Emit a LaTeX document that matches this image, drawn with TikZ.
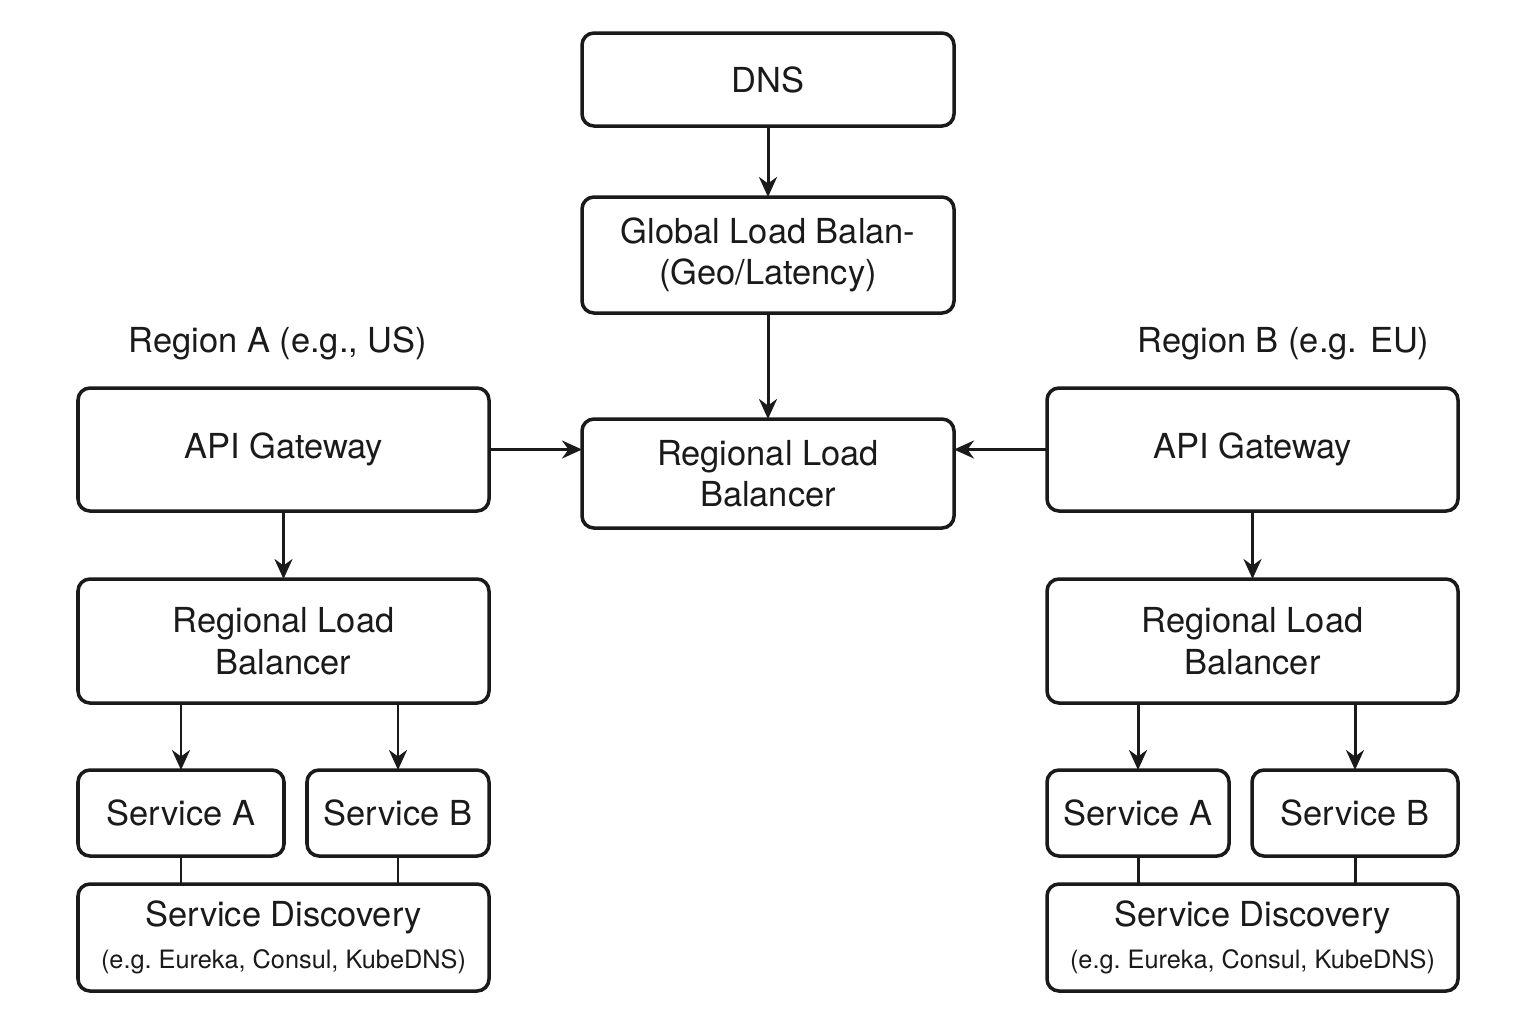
\documentclass[tikz,border=0pt]{standalone}
\usepackage{fontspec}
\setmainfont{TeX Gyre Heros}
\usetikzlibrary{arrows.meta, positioning}
\definecolor{ink}{RGB}{26, 26, 26}
\newcommand{\mainsize}{\fontsize{9.8}{11.8}\selectfont}
\newcommand{\smallsize}{\fontsize{7.2}{9}\selectfont}

\begin{document}
\begin{tikzpicture}[node distance=0.7cm]
    % Styles
    \tikzstyle{box} = [rectangle, draw=ink, text=ink, line width=1pt, outer sep=0pt,
        rounded corners=1.2mm, align=center, inner sep=0pt, font=\mainsize]
    \tikzstyle{midbox} = [box, minimum width=3.72cm]
    \tikzstyle{sidebox} = [box, minimum width=4.11cm]
    \tikzstyle{region} = [text=ink, inner sep=0pt, outer sep=0pt, font=\mainsize]
    \tikzstyle{arrow} = [ink, line width=0.85pt, -{Stealth[length=2mm, width=1.8mm]}]
    \tikzstyle{link} = [ink, line width=0.85pt]

    % Canvas
    \fill[white] (0,0) rectangle (15.36,-10.24);
    \useasboundingbox (0,0) rectangle (15.36,-10.24);

    % Nodes (middle)
    \node [midbox, minimum height=0.93cm] (dns) at (7.68,-0.795) {DNS};
    \node [midbox, minimum height=1.16cm, below=0.71cm of dns] (glb) {Global Load Balan-\\(Geo/Latency)};
    \node [midbox, minimum height=1.09cm, below=1.06cm of glb] (rlb) {Regional Load\\Balancer};

    % Nodes (region A)
    \node [sidebox, minimum height=1.23cm, left=0.93cm of rlb, yshift=0.24cm] (gwa) {API Gateway};
    \node [region, above=0.28cm of gwa, xshift=-0.055cm] (rega) {Region A (e.g., US)};
    \node [sidebox, minimum height=1.24cm, below=0.68cm of gwa] (rlba) {Regional Load\\Balancer};
    \node [box, minimum width=2.06cm, minimum height=0.86cm, below right=0.67cm and 0cm of rlba.south west] (sva) {Service A};
    \node [box, minimum width=1.82cm, minimum height=0.86cm, below left=0.67cm and 0cm of rlba.south east] (svb) {Service B};
    \node [sidebox, minimum height=1.07cm, below right=0.28cm and 0cm of sva.south west] (sda)
        {Service Discovery\\{\smallsize (e.g.\ Eureka, Consul, KubeDNS)}};

    % Nodes (region B)
    \node [sidebox, minimum height=1.23cm, right=0.93cm of rlb, yshift=0.24cm] (gwb) {API Gateway};
    \node [region, above=0.28cm of gwb, xshift=0.31cm] (regb) {Region B (e.g. EU)};
    \node [sidebox, minimum height=1.24cm, below=0.68cm of gwb] (rlbb) {Regional Load\\Balancer};
    \node [box, minimum width=1.82cm, minimum height=0.86cm, below right=0.67cm and 0cm of rlbb.south west] (svc) {Service A};
    \node [box, minimum width=2.06cm, minimum height=0.86cm, below left=0.67cm and 0cm of rlbb.south east] (svd) {Service B};
    \node [sidebox, minimum height=1.07cm, below right=0.28cm and 0cm of svc.south west] (sdb)
        {Service Discovery\\{\smallsize (e.g.\ Eureka, Consul, KubeDNS)}};

    % Arrows
    \draw [arrow] (dns) -- (glb);
    \draw [arrow] (glb) -- (rlb);
    \draw [arrow] (gwa) -- (gwa -| rlb.west);
    \draw [arrow] (gwb) -- (gwb -| rlb.east);
    \draw [arrow] (gwa) -- (rlba);
    \draw [arrow] (gwb) -- (rlbb);
    \draw [arrow] (rlba.south -| sva) -- (sva);
    \draw [arrow] (rlba.south -| svb) -- (svb);
    \draw [arrow] (rlbb.south -| svc) -- (svc);
    \draw [arrow] (rlbb.south -| svd) -- (svd);

    % Links to discovery
    \draw [link] (sva) -- (sva |- sda.north);
    \draw [link] (svb) -- (svb |- sda.north);
    \draw [link] (svc) -- (svc |- sdb.north);
    \draw [link] (svd) -- (svd |- sdb.north);
\end{tikzpicture}
\end{document}
